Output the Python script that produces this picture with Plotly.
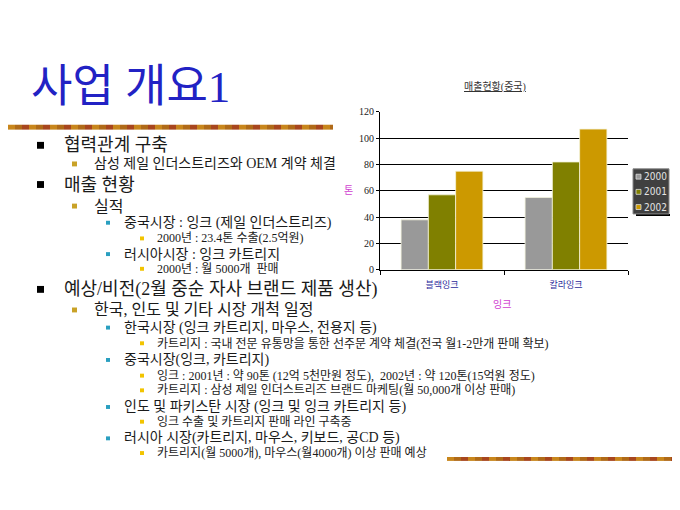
import plotly.graph_objects as go

# chart data (매출현황 중국)
categories = ["블랙잉크", "칼라잉크"]
years = ["2000", "2001", "2002"]
sales_2000 = [38, 55]
sales_2001 = [57, 82]
sales_2002 = [75, 107]
y_ticks = [0, 20, 40, 60, 80, 100, 120]
bar_colors = ["#999999", "#808000", "#cc9900"]

# slide outline: (level, text)
outline = [
    (1, "협력관계 구축"),
    (2, "삼성 제일 인더스트리즈와 OEM 계약 체결"),
    (1, "매출 현황"),
    (2, "실적"),
    (3, "중국시장 : 잉크 (제일 인더스트리즈)"),
    (4, "2000년 : 23.4톤 수출(2.5억원)"),
    (3, "러시아시장 : 잉크 카트리지"),
    (4, "2000년 : 월 5000개  판매"),
    (1, "예상/비전(2월 중순 자사 브랜드 제품 생산)"),
    (2, "한국, 인도 및 기타 시장 개척 일정"),
    (3, "한국시장 (잉크 카트리지, 마우스, 전용지 등)"),
    (4, "카트리지 : 국내 전문 유통망을 통한 선주문 계약 체결(전국 월1-2만개 판매 확보)"),
    (3, "중국시장(잉크, 카트리지)"),
    (4, "잉크 : 2001년 : 약 90톤 (12억 5천만원 정도),  2002년 : 약 120톤(15억원 정도)"),
    (4, "카트리지 : 삼성 제일 인더스트리즈 브랜드 마케팅(월 50,000개 이상 판매)"),
    (3, "인도 및 파키스탄 시장 (잉크 및 잉크 카트리지 등)"),
    (4, "잉크 수출 및 카트리지 판매 라인 구축중"),
    (3, "러시아 시장(카트리지, 마우스, 키보드, 공CD 등)"),
    (4, "카트리지(월 5000개), 마우스(월4000개) 이상 판매 예상"),
]

# the page puts the figure 8px in from the top-left corner
OFF = 8
W, H = 680 - OFF, 510 - OFF
FONT = "Liberation Serif, Noto Sans CJK KR, serif"


def px(x):
    return (x - OFF) / W


def py(y):
    return 1 - (y - OFF) / H


def note(text, x, y, size, color, anchor="left", family=FONT):
    return dict(text=text, x=px(x), y=py(y), xref="paper", yref="paper",
                xanchor=anchor, yanchor="middle", showarrow=False,
                font=dict(family=family, size=size, color=color))


def box(x0, x1, y0, y1, fill, line=None):
    return dict(type="rect", xref="paper", yref="paper", layer="above",
                x0=px(x0), x1=px(x1), y0=py(y1), y1=py(y0),
                fillcolor=fill, line=line or dict(width=0))


fig = go.Figure()
for year, vals, col in zip(years, [sales_2000, sales_2001, sales_2002], bar_colors):
    fig.add_trace(go.Bar(x=categories, y=vals, name=year,
                         marker=dict(color=col, line=dict(color="#f4f4dc", width=0.8)),
                         showlegend=False))

shapes = []
annotations = []

# title
annotations.append(note("사업 개요1", 29, 83, 45, "#2222c4"))

# textured rules
rule_palette = ["#c8861c", "#8c5a24", "#a8461e", "#7a7a22", "#d8a830", "#b06a18", "#6e5020", "#c05a28"]
for x0, x1, y0, y1 in [(0, 333, 122, 127), (447, 680, 461, 465)]:
    step = 7
    i = 0
    xs = max(x0, OFF)
    while xs < x1:
        shapes.append(box(xs, min(xs + step, x1), y0, y1,
                          rule_palette[(i * 5 + i // 3) % len(rule_palette)]))
        xs += step
        i += 1

# outline text
level_style = {
    1: dict(bx=37, bs=7, bc="#000000", tx=62, size=18),
    2: dict(bx=72, bs=5, bc="#c9a227", tx=92, size=16),
    3: dict(bx=106, bs=4, bc="#2a9fc0", tx=122, size=14),
    4: dict(bx=140, bs=4, bc="#f2c400", tx=155, size=12),
}
line_y = [143, 162, 183, 205, 222, 238, 254, 269, 290, 311, 329, 345, 362, 378, 393, 410, 425, 442, 457]
for (lvl, txt), yy in zip(outline, line_y):
    st = level_style[lvl]
    size = st["size"]
    if lvl == 2 and "OEM" in txt:
        size = 14
    shapes.append(box(st["bx"], st["bx"] + st["bs"], yy - st["bs"] / 2, yy + st["bs"] / 2, st["bc"]))
    annotations.append(note(txt, st["tx"], yy, size, "#1a1a1a"))

# chart labels
annotations.append(note("<u>매출현황(중국)</u>", 495, 83, 10, "#333333", "center"))
annotations.append(note("잉크", 502, 305, 10, "#d040d0", "center"))
annotations.append(note("톤", 348, 189, 10, "#d040d0", "center"))

# legend box
shapes.append(box(636, 670, 213, 215, "#000000"))
shapes.append(box(633, 669, 167, 213, "#404040", dict(color="#888888", width=1)))
for k, (year, col) in enumerate(zip(years, bar_colors)):
    yy = 175 + k * 15.5
    shapes.append(box(636, 641, yy - 2.5, yy + 2.5, col, dict(color="#dddddd", width=0.8)))
    annotations.append(note(year, 642, yy, 10, "#e4e4e4",
                            family="DejaVu Sans Condensed, Liberation Sans Narrow, sans-serif"))

fig.update_layout(
    width=W, height=H, autosize=False,
    margin=dict(l=0, r=0, t=0, b=0),
    paper_bgcolor="white", plot_bgcolor="white",
    barmode="group", bargap=0.34, bargroupgap=0,
    shapes=shapes, annotations=annotations,
    xaxis=dict(domain=[px(380), px(628)], type="category", showline=True, linecolor="black", linewidth=1,
               ticks="outside", tickson="boundaries", ticklen=4, tickcolor="black",
               ticklabelstandoff=6,
               tickfont=dict(family=FONT, size=9, color="#2b2b9b"), showgrid=False),
    yaxis=dict(domain=[py(270), py(109)], range=[0, 120], tickvals=y_ticks, showline=True,
               linecolor="black", linewidth=1, showgrid=True, gridcolor="black", gridwidth=1,
               ticks="outside", ticklen=3, tickcolor="black", zeroline=False,
               tickfont=dict(family=FONT, size=10, color="#222222")),
)

fig.write_html("out.html")
